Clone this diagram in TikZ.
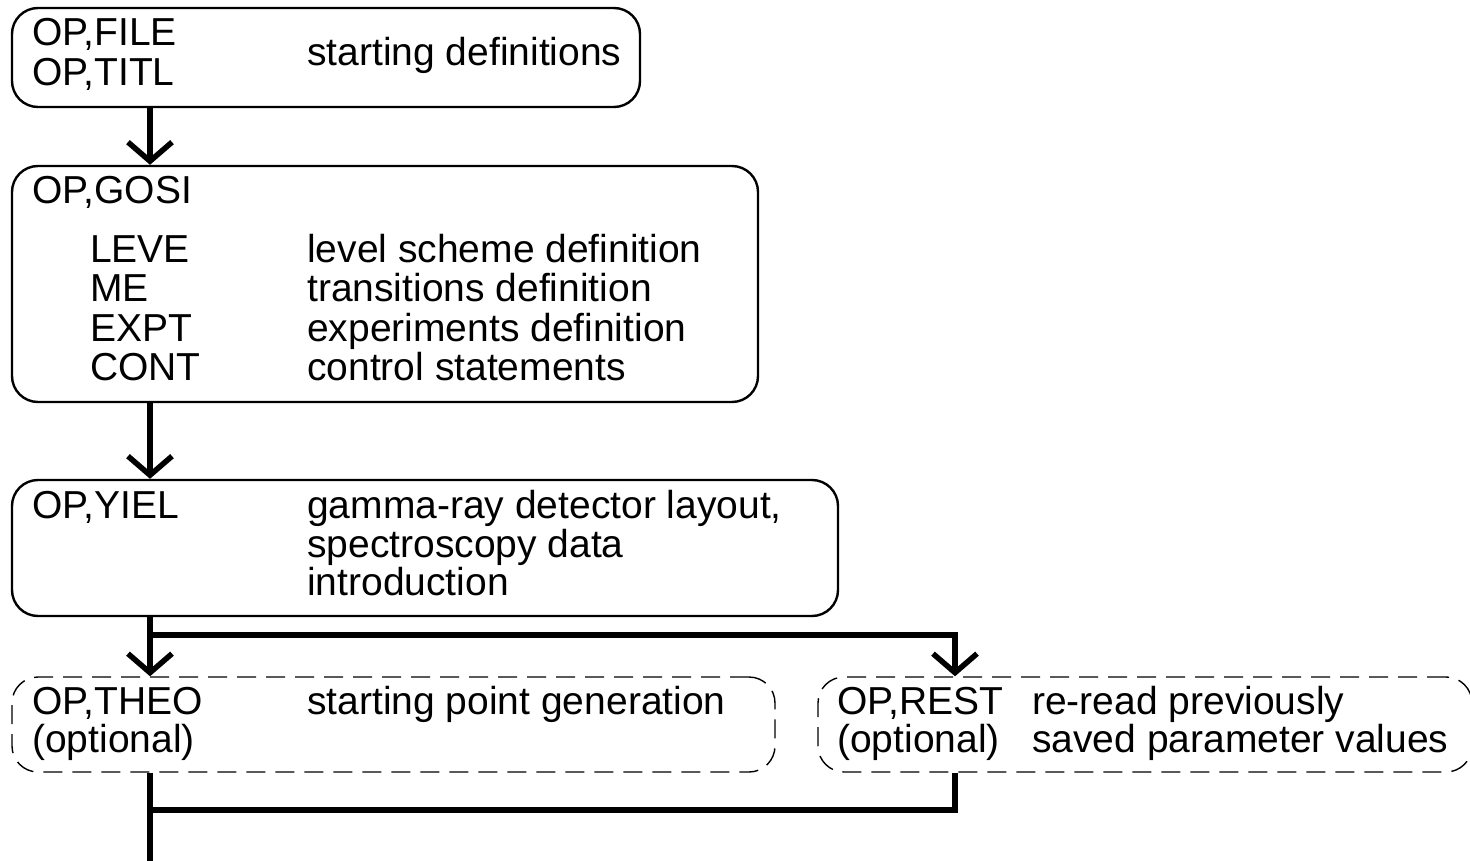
\documentclass[tikz,border=0pt]{standalone}
\usepackage{fontspec}
\setmainfont{Liberation Sans}
\usetikzlibrary{arrows.meta,calc}
\begin{document}
\begin{tikzpicture}[x=1pt,y=-1pt,
  box/.style={draw, line width=2.4pt, rounded corners=26pt, inner sep=0pt},
  optbox/.style={draw, line width=1.4pt, dash pattern=on 19pt off 10pt, rounded corners=26pt, inner sep=0pt},
  txt/.style={anchor=base west, inner sep=0pt, font=\fontsize{39}{42}\selectfont},
  flow/.style={line width=5.5pt, line join=miter},
  vtip/.style={flow, -{Straight Barb[length=19pt 0 0, width=44pt 0 0, line width=5.5pt]}}]
\useasboundingbox (0,0) rectangle (1470,861);

% boxes (corner-to-corner extents)
\node[box, minimum width=628pt, minimum height=99pt]  (file) at (326,57.5) {};
\node[box, minimum width=746pt, minimum height=236pt] (gosi) at (385,284) {};
\node[box, minimum width=826pt, minimum height=136pt] (yiel) at (425,548) {};
\node[optbox, minimum width=763pt, minimum height=95pt] (theo) at (393.5,724.5) {};
\node[optbox, minimum width=654pt, minimum height=95pt] (rest) at (1145,724.5) {};

% texts
\node[txt] (f1) at (32,46) {OP,FILE};
\node[txt] (f2) at (32,86) {OP,TITL};
\node[txt] (f3) at (307,66) {starting definitions};

\node[txt] (g0) at (32,204) {OP,GOSI};
\node[txt] (g1) at (90,262) {LEVE};
\node[txt] (g2) at (90,301) {ME};
\node[txt] (g3) at (90,341) {EXPT};
\node[txt] (g4) at (90,380) {CONT};
\node[txt] (g1d) at (307,262) {level scheme definition};
\node[txt] (g2d) at (307,301) {transitions definition};
\node[txt] (g3d) at (307,341) {experiments definition};
\node[txt] (g4d) at (307,380) {control statements};

\node[txt] (y0) at (32,518) {OP,YIEL};
\node[txt] (y1) at (307,518) {gamma-ray detector layout,};
\node[txt] (y2) at (307,557) {spectroscopy data};
\node[txt] (y3) at (307,595) {introduction};

\node[txt] (t0) at (32,714) {OP,THEO};
\node[txt] (t1) at (32,752) {(optional)};
\node[txt] (t2) at (307,714) {starting point generation};

\node[txt] (r0) at (837,714) {OP,REST};
\node[txt] (r1) at (837,752) {(optional)};
\node[txt] (r2) at (1032,714) {re-read previously};
\node[txt] (r3) at (1032,752) {saved parameter values};

% connector guides
\coordinate (spine) at (150,0);
\coordinate (restcol) at (955,0);
\coordinate (fork) at (150,635);
\coordinate (merge) at (150,810);
\coordinate (exit) at (150,861);

% connectors
\draw[vtip] (spine |- file.south) -- (spine |- gosi.north);
\draw[vtip] (spine |- gosi.south) -- (spine |- yiel.north);
\draw[vtip] (spine |- yiel.south) -- (spine |- theo.north);
\draw[vtip] (fork) -| (restcol |- rest.north);
\draw[flow] (spine |- theo.south) -- (exit);
\draw[flow] (restcol |- rest.south) |- (merge);
\end{tikzpicture}
\end{document}
